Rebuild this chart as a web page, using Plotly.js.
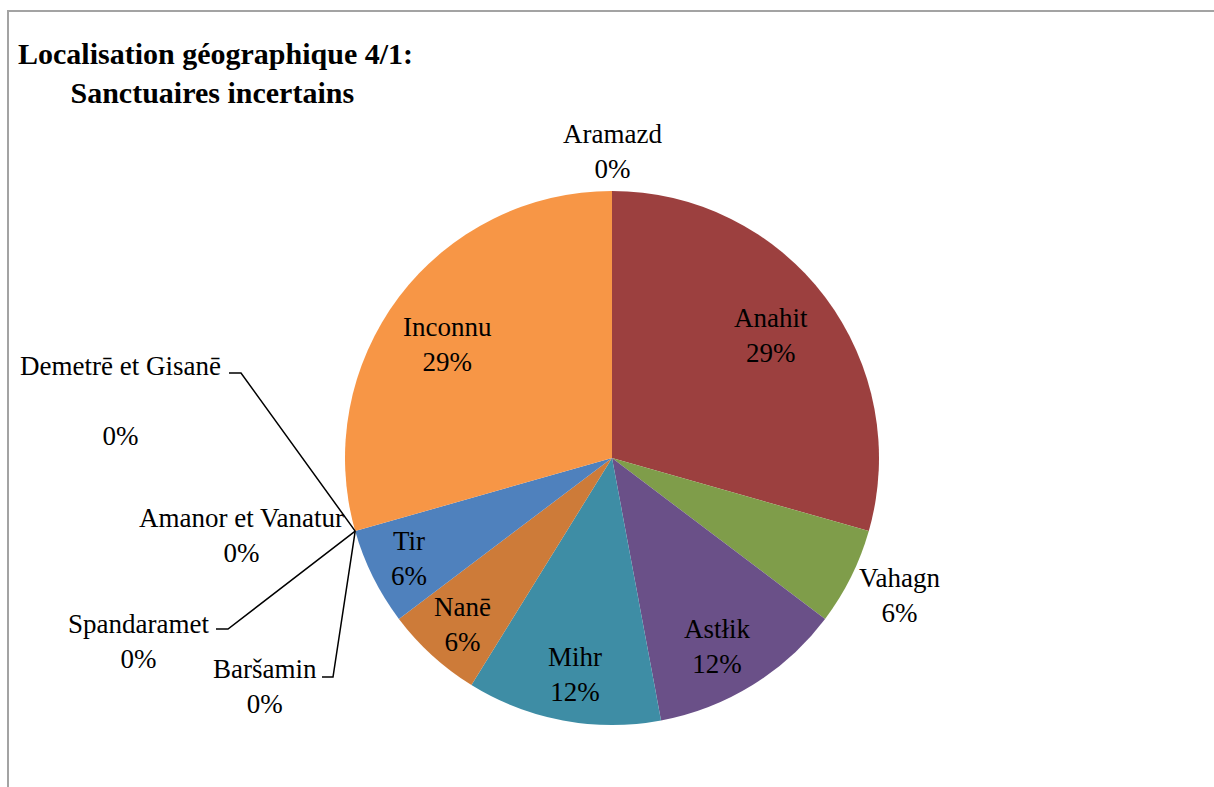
<!DOCTYPE html>
<html>
<head>
<meta charset="utf-8">
<script src="https://cdn.plot.ly/plotly-3.0.1.min.js"></script>
<style>
  body { margin: 0; background: #fff; }
  #wrap { position: relative; width: 1214px; height: 787px; }
  #chart { width: 1214px; height: 787px; }
  #frame { position: absolute; left: 7px; top: 10px; width: 1207px; height: 777px;
           border-top: 2px solid #a3a3a3; border-left: 2px solid #a3a3a3; pointer-events: none; box-sizing: border-box; }
</style>
</head>
<body>
<div id="wrap"><div id="chart"></div><div id="frame"></div></div>
<script>
// ---- data (clockwise from 12 o'clock) ----
const categories = ['Aramazd', 'Anahit', 'Vahagn', 'Astłik', 'Mihr', 'Nanē', 'Tir',
                    'Baršamin', 'Spandaramet', 'Amanor et Vanatur', 'Demetrē et Gisanē', 'Inconnu'];
const sanctuaries = [0, 5, 1, 2, 2, 1, 1, 0, 0, 0, 0, 5];
const sliceColors = ['#C0504D', '#9C403F', '#7F9D4A', '#6A5088', '#3E8DA5', '#CD7B39', '#4F81BD',
                     '#4BACC6', '#8064A2', '#9BBB59', '#C0504D', '#F79646'];
const titleLine1 = 'Localisation géographique 4/1:';
const titleLine2 = 'Sanctuaires incertains';

const W = 1214, H = 787;
const FONT = 'Liberation Serif, Times New Roman, serif';
const FS = 27;
const dom = { x: [345 / W, 879 / W], y: [62 / H, 596 / H] };
const total = sanctuaries.reduce((a, b) => a + b, 0);

const trace = {
  type: 'pie',
  labels: categories,
  values: sanctuaries,
  sort: false,
  direction: 'clockwise',
  rotation: 0,
  domain: dom,
  marker: { colors: sliceColors, line: { width: 0 } },
  textinfo: 'none',
  textposition: 'none',
  showlegend: false,
  hoverinfo: 'label+percent'
};

// geometry of pie in pixels (for leader lines of zero slices)
const cx = (dom.x[0] + dom.x[1]) / 2 * W;
const cy = (1 - (dom.y[0] + dom.y[1]) / 2) * H;
const R = Math.min((dom.x[1] - dom.x[0]) * W, (dom.y[1] - dom.y[0]) * H) / 2;
function edgePoint(idx) {
  let cum = 0;
  for (let i = 0; i < idx; i++) cum += sanctuaries[i];
  const th = 2 * Math.PI * cum / total;
  return [cx + R * Math.sin(th), cy - R * Math.cos(th)];
}
const px = x => x / W, py = y => 1 - y / H;
function pctText(i) { return Math.round(100 * sanctuaries[i] / total) + '%'; }

// data-label placement (label block centre, pixels) and leader stubs
const labelPlacement = {
  'Aramazd':           { x: 612, y: 151 },
  'Anahit':            { x: 771, y: 335 },
  'Vahagn':            { x: 899, y: 595 },
  'Astłik':            { x: 717, y: 646 },
  'Mihr':              { x: 575, y: 674 },
  'Nanē':              { x: 462, y: 624 },
  'Tir':               { x: 409, y: 558 },
  'Baršamin':          { x: 265, y: 686, stub: [[322, 677], [333, 677]] },
  'Spandaramet':       { x: 138, y: 641, stub: [[216, 629], [228, 629]] },
  'Amanor et Vanatur': { x: 241, y: 535 },
  'Demetrē et Gisanē': { x: 120, y: 401, gap: true, stub: [[229, 373], [241, 373]] },
  'Inconnu':           { x: 447, y: 344 }
};

const annotations = [];
const shapes = [];
categories.forEach((c, i) => {
  const z = labelPlacement[c];
  if (!z) return;
  const gap = z.gap ? '<br><br>' : '<br>';
  annotations.push({
    xref: 'paper', yref: 'paper', x: px(z.x), y: py(z.y), xanchor: 'center', yanchor: 'middle',
    text: c + gap + pctText(i), showarrow: false, align: 'center',
    font: { family: FONT, size: FS, color: '#000' }
  });
  if (z.stub) {
    const e = edgePoint(i);
    shapes.push({
      type: 'path', xref: 'paper', yref: 'paper',
      path: 'M' + px(z.stub[0][0]) + ',' + py(z.stub[0][1]) + ' L' + px(z.stub[1][0]) + ',' + py(z.stub[1][1]) +
            ' L' + px(e[0]) + ',' + py(e[1]),
      line: { color: '#000', width: 1.5 }
    });
  }
});

const nb = '\u00A0'.repeat(7);
const layout = {
  width: W, height: H,
  margin: { l: 0, r: 0, t: 0, b: 0 },
  paper_bgcolor: '#fff',
  title: {
    text: '<b>' + titleLine1 + '</b><br><b>' + nb + titleLine2 + '</b>',
    xref: 'container', yref: 'container', x: 18 / W, xanchor: 'left',
    y: 1 - 64 / H, yanchor: 'top',
    font: { family: FONT, size: 30, color: '#000' }
  },
  annotations: annotations,
  shapes: shapes
};

Plotly.newPlot('chart', [trace], layout, { displayModeBar: false, staticPlot: true });
</script>
</body>
</html>
